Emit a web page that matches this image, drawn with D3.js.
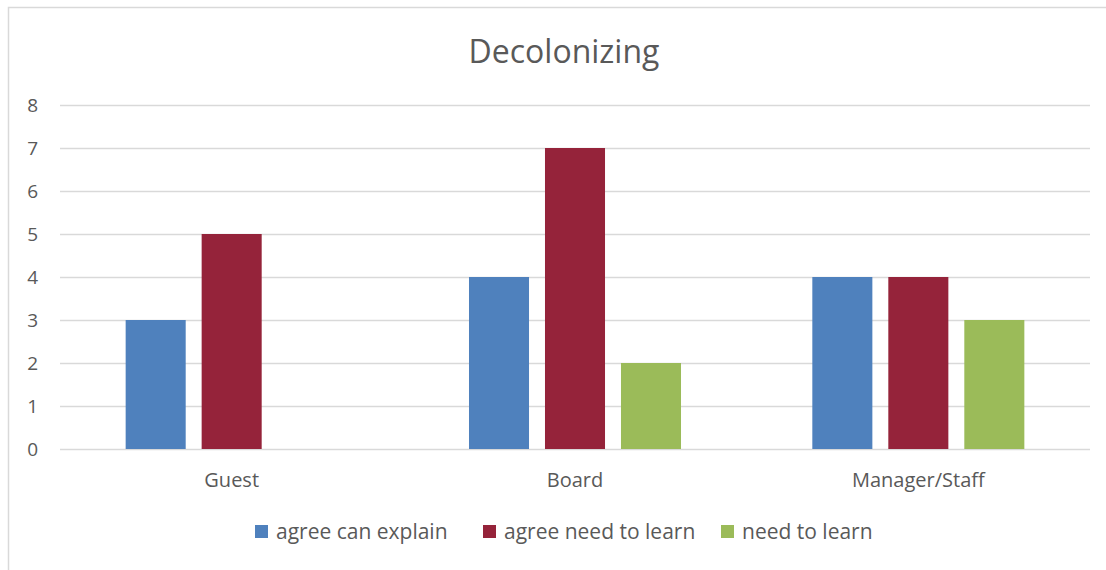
<!DOCTYPE html>
<html>
<head>
<meta charset="utf-8">
<script src="https://cdn.jsdelivr.net/npm/d3@7"></script>
<style>
  html, body { margin: 0; padding: 0; background: #fff; }
  svg { display: block; font-family: "Open Sans", "Liberation Sans", sans-serif; }
</style>
</head>
<body>
<svg id="chart" width="1106" height="570"></svg>
<script>
// Survey counts per respondent group
const categories = ["Guest", "Board", "Manager/Staff"];
const seriesNames = ["agree can explain", "agree need to learn", "need to learn"];
const agreeCanExplain = [3, 4, 4];
const agreeNeedToLearn = [5, 7, 4];
const needToLearn = [0, 2, 3];
const yTicks = [0, 1, 2, 3, 4, 5, 6, 7, 8];
const colors = ["#4F81BD", "#95233A", "#9BBB59"];

const seriesValues = [agreeCanExplain, agreeNeedToLearn, needToLearn];
const rows = categories.map((c, i) => ({
  category: c,
  values: seriesNames.map((s, j) => ({ series: s, value: seriesValues[j][i], idx: j }))
}));

const svg = d3.select("#chart");
const textColor = "#595959";
const fontStack = "Open Sans, Liberation Sans, sans-serif";

// chart frame
svg.append("rect")
  .attr("x", 8.5).attr("y", 7.5)
  .attr("width", 1110).attr("height", 580)
  .attr("fill", "#fff").attr("stroke", "#d9d9d9").attr("stroke-width", 1.5);

const plot = { left: 60, right: 1090, top: 105, bottom: 449 };

const y = d3.scaleLinear().domain([0, 8]).range([plot.bottom, plot.top]);
const x0 = d3.scaleBand().domain(categories).range([plot.left, plot.right]).padding(0);
const x1 = d3.scaleBand().domain(seriesNames).range([0, x0.bandwidth()])
  .paddingInner(0.21).paddingOuter(0.864);
const color = d3.scaleOrdinal().domain(seriesNames).range(colors);

// title
svg.append("text")
  .attr("x", 564).attr("y", 63)
  .attr("text-anchor", "middle")
  .attr("font-family", fontStack)
  .attr("font-size", 32)
  .attr("fill", textColor)
  .text("Decolonizing");

// gridlines
svg.append("g")
  .selectAll("line")
  .data(yTicks)
  .join("line")
  .attr("x1", plot.left).attr("x2", plot.right)
  .attr("y1", d => Math.round(y(d)) + 0.5).attr("y2", d => Math.round(y(d)) + 0.5)
  .attr("stroke", "#d9d9d9").attr("stroke-width", 1.5);

// y axis labels
const yAxis = d3.axisLeft(y).tickValues(yTicks).tickSize(0).tickPadding(0).tickFormat(d3.format("d"));
const gy = svg.append("g").attr("transform", "translate(38,0)").call(yAxis);
gy.select(".domain").remove();
gy.selectAll("text")
  .attr("font-family", fontStack)
  .attr("font-size", 19).attr("fill", textColor);

// x axis labels
const xAxis = d3.axisBottom(x0).tickSize(0).tickPadding(0);
const gx = svg.append("g").attr("transform", `translate(0,${plot.bottom + 24})`).call(xAxis);
gx.select(".domain").remove();
gx.selectAll("text")
  .attr("font-family", fontStack)
  .attr("font-size", 20).attr("fill", textColor);

// bars
svg.append("g")
  .selectAll("g")
  .data(rows)
  .join("g")
  .attr("transform", d => `translate(${x0(d.category)},0)`)
  .selectAll("rect")
  .data(d => d.values.filter(v => v.value > 0))
  .join("rect")
  .attr("x", d => x1(d.series))
  .attr("y", d => y(d.value))
  .attr("width", x1.bandwidth())
  .attr("height", d => y(0) - y(d.value))
  .attr("fill", d => color(d.series));

// legend
const legendItems = [
  { name: seriesNames[0], x: 255 },
  { name: seriesNames[1], x: 483 },
  { name: seriesNames[2], x: 721 }
];
const lg = svg.append("g").selectAll("g").data(legendItems).join("g")
  .attr("transform", d => `translate(${d.x},525)`);
lg.append("rect").attr("width", 13).attr("height", 13)
  .attr("fill", d => color(d.name));
lg.append("text").attr("x", 21).attr("y", 14)
  .attr("font-family", fontStack)
  .attr("font-size", 21).attr("fill", textColor)
  .text(d => d.name);
</script>
</body>
</html>
